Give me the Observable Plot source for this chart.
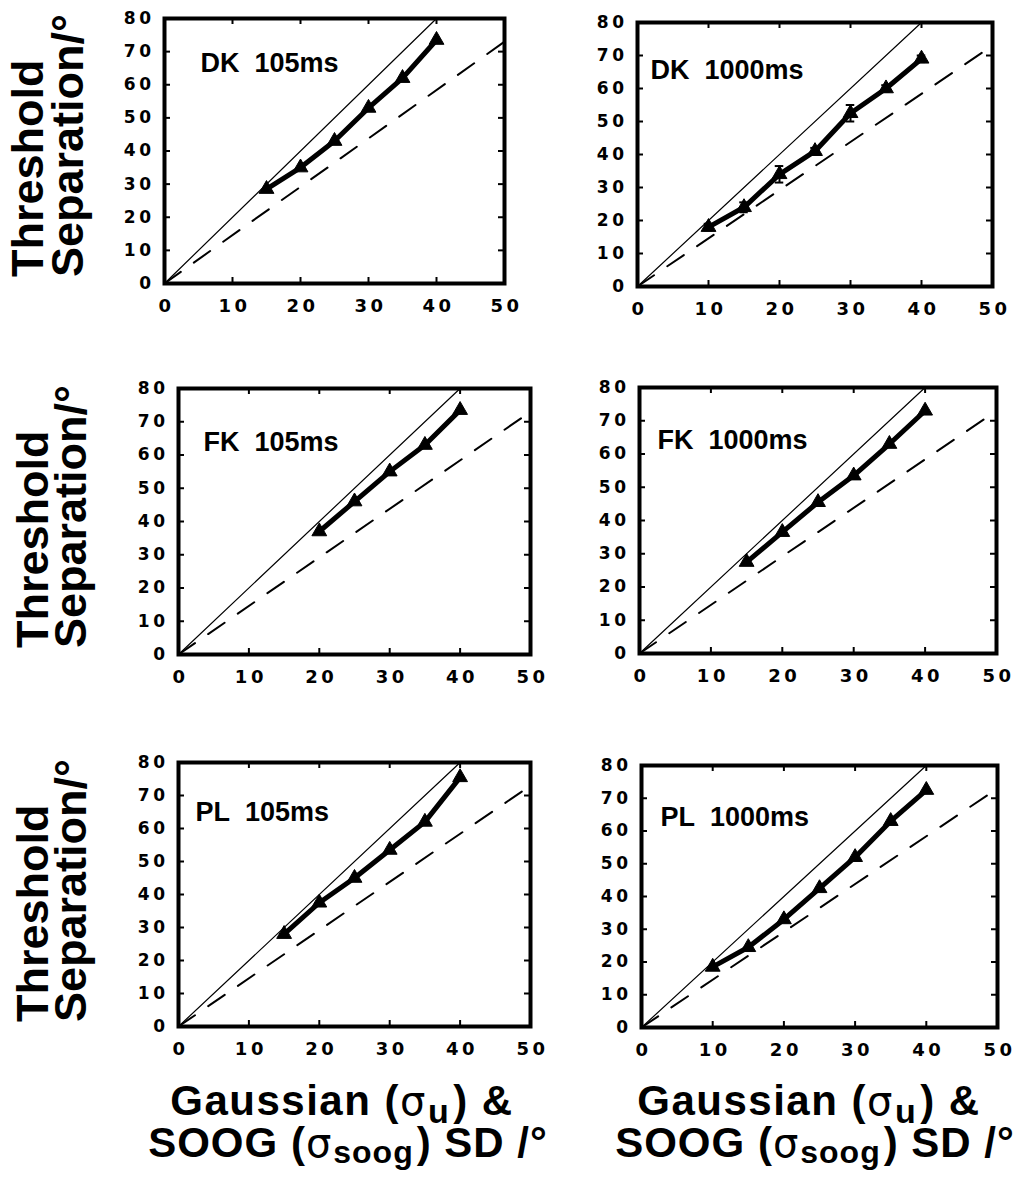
<!DOCTYPE html>
<html>
<head>
<meta charset="utf-8">
<script src="https://cdn.jsdelivr.net/npm/d3@7"></script>
<script src="https://cdn.jsdelivr.net/npm/@observablehq/plot@0.6"></script>
<style>
  html, body { margin: 0; padding: 0; background: #fff; }
  #page { position: relative; width: 1025px; height: 1189px; background: #fff; overflow: hidden; }
  #page > svg { position: absolute; }
  g[aria-label="x-axis tick label"] { font-size: 18px; }
  g[aria-label="y-axis tick label"] { font-size: 17px; }
  g[aria-label="x-axis tick label"] text,
  g[aria-label="y-axis tick label"] text { letter-spacing: 3.5px; font-weight: bold; }
  g[aria-label="panel label"] text { letter-spacing: 2.5px; }
</style>
</head>
<body>
<div id="page"></div>
<script>
// Panels: observers (rows) and stimulus durations (columns)
const subjects = ["DK", "FK", "PL"];
const durations = ["105ms", "1000ms"];

// Axis ticks
const sdTicks = [0, 10, 20, 30, 40, 50];
const sepTicks = [0, 10, 20, 30, 40, 50, 60, 70, 80];

// Gaussian / SOOG SD (deg) and threshold separation (deg)
const dk105Sd = [15, 20, 25, 30, 35, 40];
const dk105Sep = [28.5, 35, 43, 53, 62, 73.5];
const dk1000Sd = [10, 15, 20, 25, 30, 35, 40];
const dk1000Sep = [18, 24, 34, 41, 52.5, 60, 69];
const dk1000Err = [1, 1.5, 2.5, 1, 2.5, 1, 1];
const fk105Sd = [20, 25, 30, 35, 40];
const fk105Sep = [37, 46, 55, 63, 73.5];
const fk1000Sd = [15, 20, 25, 30, 35, 40];
const fk1000Sep = [27.5, 36.5, 45.5, 53.5, 63, 73];
const pl105Sd = [15, 20, 25, 30, 35, 40];
const pl105Sep = [28, 37.5, 45, 53.5, 62, 75.5];
const pl1000Sd = [10, 15, 20, 25, 30, 35, 40];
const pl1000Sep = [18.5, 24.5, 33, 42.5, 52, 63, 72.5];

// Reference lines (solid and dashed)
const solidRefSd = [0, 40];
const solidRefSep = [0, 80];
const dashedRefSd = [0, 50];
const dashedRefSep = [0, 73];

const series = {
  "DK 105ms": {sd: dk105Sd, sep: dk105Sep},
  "DK 1000ms": {sd: dk1000Sd, sep: dk1000Sep, err: dk1000Err},
  "FK 105ms": {sd: fk105Sd, sep: fk105Sep},
  "FK 1000ms": {sd: fk1000Sd, sep: fk1000Sep},
  "PL 105ms": {sd: pl105Sd, sep: pl105Sep},
  "PL 1000ms": {sd: pl1000Sd, sep: pl1000Sep}
};

// Frame rectangle of each panel on the page, and the label offset inside it
const frames = [
  {left: 164, top: 18, width: 340, height: 265, labelDx: 36, labelDy: 45},
  {left: 637, top: 22, width: 355, height: 264, labelDx: 13, labelDy: 48},
  {left: 178, top: 388, width: 352, height: 266, labelDx: 25, labelDy: 54},
  {left: 639, top: 387, width: 357, height: 266, labelDx: 18, labelDy: 53},
  {left: 178, top: 762, width: 352, height: 264, labelDx: 17, labelDy: 50},
  {left: 641, top: 765, width: 356, height: 262, labelDx: 19, labelDy: 52}
];

const M = {top: 12, right: 28, bottom: 42, left: 52};
const page = document.getElementById("page");

const rows = [];
subjects.forEach(s => durations.forEach(d => rows.push({subject: s, duration: d})));

rows.forEach((r, i) => {
  const f = frames[i];
  const s = series[`${r.subject} ${r.duration}`];
  const pts = s.sd.map((x, j) => ({sd: x, sep: s.sep[j], err: s.err ? s.err[j] : 0}));
  const withErr = pts.filter(d => d.err > 0);
  const caps = withErr.flatMap(d => [
    {sd: d.sd, sep: d.sep - d.err},
    {sd: d.sd, sep: d.sep + d.err}
  ]);
  const solidRef = solidRefSd.map((x, j) => ({sd: x, sep: solidRefSep[j]}));
  const dashedRef = dashedRefSd.map((x, j) => ({sd: x, sep: dashedRefSep[j]}));
  const innerX = sdTicks.filter(t => t > 0 && t < 50);
  const innerY = sepTicks.filter(t => t > 0 && t < 80);
  const tick = 6;

  const svg = Plot.plot({
    width: f.width + M.left + M.right,
    height: f.height + M.top + M.bottom,
    marginTop: M.top, marginRight: M.right, marginBottom: M.bottom, marginLeft: M.left,
    x: {domain: [0, 50]},
    y: {domain: [0, 80]},
    style: {
      fontFamily: "'DejaVu Sans', sans-serif",
      fontWeight: "bold",
      color: "#000",
      background: "transparent",
      overflow: "visible"
    },
    marks: [
      Plot.axisY(sepTicks, {tickSize: 0, tickPadding: 10, label: null}),
      Plot.axisX(sdTicks, {tickSize: 0, tickPadding: 16, label: null, dx: 2}),
      // inward tick marks on all four sides
      Plot.tickX(innerX, {x: d => d, insetTop: f.height - tick, strokeWidth: 2}),
      Plot.tickX(innerX, {x: d => d, insetBottom: f.height - tick, strokeWidth: 2}),
      Plot.tickY(innerY, {y: d => d, insetRight: f.width - tick, strokeWidth: 2}),
      Plot.tickY(innerY, {y: d => d, insetLeft: f.width - tick, strokeWidth: 2}),
      Plot.line(solidRef, {x: "sd", y: "sep", stroke: "#000", strokeWidth: 1.2}),
      Plot.line(dashedRef, {x: "sd", y: "sep", stroke: "#000", strokeWidth: 2, strokeDasharray: "20,16"}),
      Plot.ruleX(withErr, {x: "sd", y1: d => d.sep - d.err, y2: d => d.sep + d.err, strokeWidth: 2}),
      Plot.ruleY(caps, {y: "sep", x1: d => d.sd - 0.6, x2: d => d.sd + 0.6, strokeWidth: 2}),
      Plot.line(pts, {x: "sd", y: "sep", stroke: "#000", strokeWidth: 5, strokeLinejoin: "round"}),
      Plot.dot(pts, {x: "sd", y: "sep", symbol: "triangle", r: 5.5, fill: "#000", stroke: "#000", strokeWidth: 1}),
      Plot.text([`${r.subject}\u00a0\u00a0${r.duration}`], {
        text: d => d, frameAnchor: "top-left", textAnchor: "start", lineAnchor: "middle",
        dx: f.labelDx, dy: f.labelDy, fontSize: 27, fontWeight: "bold",
        fontFamily: "'Liberation Sans', Arial, sans-serif", ariaLabel: "panel label"
      }),
      Plot.frame({stroke: "#000", strokeWidth: 4})
    ]
  });
  svg.style.left = `${f.left - M.left}px`;
  svg.style.top = `${f.top - M.top}px`;
  page.appendChild(svg);
});

// Axis titles
const titleFont = "'Liberation Sans', Arial, sans-serif";
const overlay = d3.create("svg")
  .attr("width", 1025).attr("height", 1189)
  .style("left", "0px").style("top", "0px")
  .attr("font-family", titleFont).attr("font-weight", "bold");

const yTitleRows = [
  {bottom: 277, first: 43, second: 83},
  {bottom: 648, first: 48, second: 86},
  {bottom: 1022, first: 48, second: 86}
];
yTitleRows.forEach(t => {
  overlay.append("text")
    .attr("transform", `translate(${t.first},${t.bottom}) rotate(-90)`)
    .attr("text-anchor", "start").attr("font-size", 45)
    .text("Threshold");
  overlay.append("text")
    .attr("transform", `translate(${t.second},${t.bottom}) rotate(-90)`)
    .attr("text-anchor", "start").attr("font-size", 45)
    .text("Separation/°");
});

[342, 809].forEach(cx => {
  const l1 = overlay.append("text").attr("x", cx).attr("y", 1115)
    .attr("text-anchor", "middle").attr("font-size", 42).attr("letter-spacing", 1.5);
  l1.append("tspan").text("Gaussian (");
  l1.append("tspan").attr("font-weight", "normal").attr("font-family", "'DejaVu Sans', sans-serif").attr("font-size", 40).text("σ");
  l1.append("tspan").attr("font-size", 34).attr("dx", 1).attr("dy", 8).text("u");
  l1.append("tspan").attr("dx", 3).attr("dy", -8).text(") &");

  const l2 = overlay.append("text").attr("x", cx + 6).attr("y", 1157)
    .attr("text-anchor", "middle").attr("font-size", 42).attr("letter-spacing", 1);
  l2.append("tspan").text("SOOG (");
  l2.append("tspan").attr("font-weight", "normal").attr("font-family", "'DejaVu Sans', sans-serif").attr("font-size", 40).text("σ");
  l2.append("tspan").attr("font-size", 32).attr("dx", 1).attr("dy", 6).text("soog");
  l2.append("tspan").attr("dx", 3).attr("dy", -6).text(") SD /°");
});

page.appendChild(overlay.node());
</script>
</body>
</html>
